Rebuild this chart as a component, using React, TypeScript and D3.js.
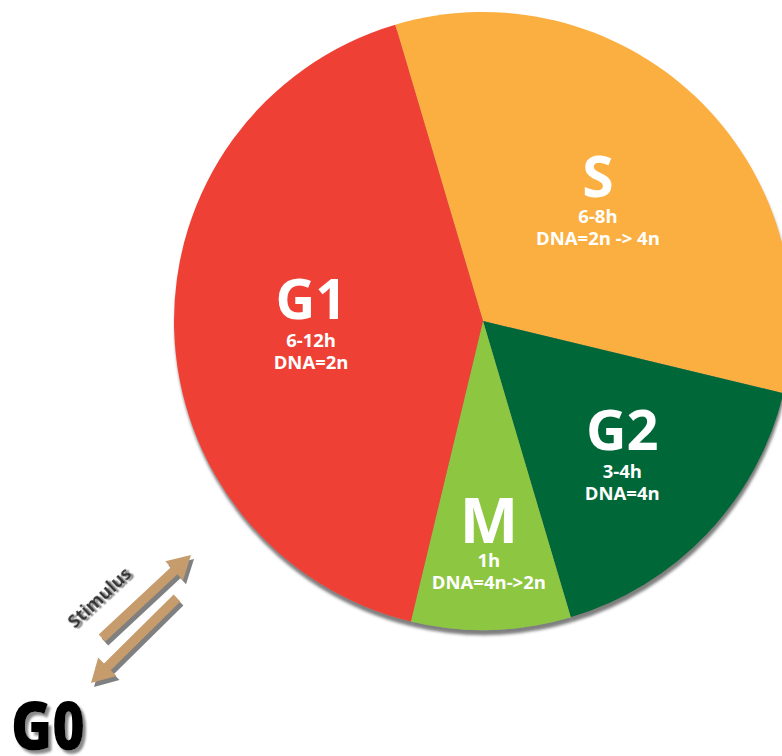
import React from 'react';
import * as d3 from 'd3';

// ---- data ----
const phases = ['S', 'G2', 'M', 'G1'];
const shares = [4, 2, 1, 5]; // relative share of the cycle (clockwise from top)
const hours = ['6-8h', '3-4h', '1h', '6-12h'];
const dna = ['DNA=2n -> 4n', 'DNA=4n', 'DNA=4n->2n', 'DNA=2n'];
const colors = ['#FBAF41', '#006838', '#8DC63F', '#EF4136'];

// ---- layout constants ----
const W = 782;
const H = 756;
const CX = 483;
const CY = 321;
const R = 309;
const START = (-16.5 * Math.PI) / 180;
const labelR = [167, 192, 225, 172];
const labelDy = [0, 0, 0, -4];
const bigSize = [57, 56, 62, 55];
const lineGap = [26, 28, 24, 28];
const FONT = "'Open Sans', 'Noto Sans', sans-serif";

const ARROW_COLOR = '#C69C6D';

function arrowPoints(len: number, shaftHalf: number, headHalf: number, headLen: number) {
  const b = len - headLen;
  return [
    [0, -shaftHalf],
    [b, -shaftHalf],
    [b, -headHalf],
    [len, 0],
    [b, headHalf],
    [b, shaftHalf],
    [0, shaftHalf],
  ]
    .map((p) => p.join(','))
    .join(' ');
}

function Arrow({ x1, y1, x2, y2 }: { x1: number; y1: number; x2: number; y2: number }) {
  const len = Math.hypot(x2 - x1, y2 - y1);
  const ang = (Math.atan2(y2 - y1, x2 - x1) * 180) / Math.PI;
  const pts = arrowPoints(len, 4.8, 13, 23);
  return (
    <g>
      <polygon points={pts} fill="#808080" transform={`translate(${x1 + 3},${y1 + 4})  rotate(${ang})`} />
      <polygon points={pts} fill={ARROW_COLOR} transform={`translate(${x1},${y1}) rotate(${ang})`} />
    </g>
  );
}

export default function App() {
  const pie = d3
    .pie<number>()
    .sort(null)
    .value((d) => d)
    .startAngle(START)
    .endAngle(START + 2 * Math.PI);
  const arcs = pie(shares);
  const arc = d3.arc<d3.PieArcDatum<number>>().innerRadius(0).outerRadius(R);

  return (
    <div style={{ position: 'absolute', left: 0, top: 0, width: W, height: H, overflow: 'hidden' }}>
      <svg width={W} height={H} style={{ display: 'block' }}>
        <defs>
          <filter id="pieShadow" x="-10%" y="-10%" width="120%" height="125%">
            <feDropShadow dx="1" dy="5" stdDeviation="1.6" floodColor="#555" floodOpacity="0.75" />
          </filter>
          <filter id="txtShadow" x="-20%" y="-20%" width="140%" height="140%">
            <feDropShadow dx="1.5" dy="2.5" stdDeviation="0.7" floodColor="#8a8a8a" floodOpacity="1" />
          </filter>
          <filter id="g0Shadow" x="-20%" y="-20%" width="140%" height="140%">
            <feDropShadow dx="3" dy="3.5" stdDeviation="0.8" floodColor="#8a8a8a" floodOpacity="1" />
          </filter>
        </defs>
        <rect width={W} height={H} fill="#ffffff" />
        <g transform={`translate(${CX},${CY})`}>
          <g filter="url(#pieShadow)">
            {arcs.map((a, i) => (
              <path key={phases[i]} d={arc(a) || ''} fill={colors[i]} />
            ))}
          </g>
          {arcs.map((a, i) => {
            const lab = d3.arc<d3.PieArcDatum<number>>().innerRadius(labelR[i]).outerRadius(labelR[i]);
            const [lx, ly0] = lab.centroid(a);
            const ly = ly0 + labelDy[i];
            const base = ly - 3;
            return (
              <g key={'l' + phases[i]} fill="#ffffff" fontFamily={FONT} fontWeight={700} textAnchor="middle">
                <text x={lx} y={base} fontSize={bigSize[i]}>
                  {phases[i]}
                </text>
                <text x={lx} y={base + lineGap[i]} fontSize={18.5}>
                  {hours[i]}
                </text>
                <text x={lx} y={base + lineGap[i] + 22} fontSize={18.5}>
                  {dna[i]}
                </text>
              </g>
            );
          })}
        </g>

        {/* Stimulus arrows */}
        <Arrow x1={102} y1={638} x2={191} y2={555} />
        <Arrow x1={177} y1={598} x2={91} y2={683} />
        <text
          x={0}
          y={0}
          transform="translate(99,597) rotate(-43)"
          textAnchor="middle"
          dominantBaseline="central"
          fontFamily={FONT}
          fontWeight={700}
          fontSize={18}
          fill="#333333"
          filter="url(#txtShadow)"
        >
          Stimulus
        </text>

        {/* G0 */}
        <text
          x={11}
          y={750}
          fontFamily={FONT}
          fontWeight={800}
          fontSize={67}
          textLength={74}
          lengthAdjust="spacingAndGlyphs"
          fill="#000000"
          filter="url(#g0Shadow)"
        >
          G0
        </text>
      </svg>
    </div>
  );
}
